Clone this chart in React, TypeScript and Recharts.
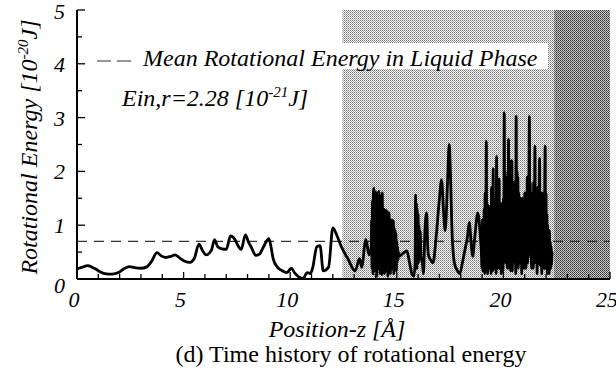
import { LineChart, Line, XAxis, YAxis, ReferenceArea, ReferenceLine } from "recharts";

// [position-z (Å), rotational energy (1e-20 J)]
const liquidTrace: [number, number][] = [
  [0, 0.19], [0.25, 0.22], [0.5, 0.25], [0.7, 0.22], [0.9, 0.18], [1.1, 0.13], [1.3, 0.1],
  [1.65, 0.09], [1.95, 0.12], [2.2, 0.19], [2.45, 0.23], [2.7, 0.21], [3.0, 0.2], [3.25, 0.22],
  [3.5, 0.33], [3.75, 0.49], [3.95, 0.43], [4.15, 0.4], [4.4, 0.42], [4.6, 0.45], [4.85, 0.38],
  [5.05, 0.33], [5.3, 0.31], [5.5, 0.38], [5.72, 0.65], [5.9, 0.52], [6.06, 0.45], [6.3, 0.53],
  [6.45, 0.73], [6.6, 0.6], [6.8, 0.56], [7.0, 0.55], [7.2, 0.8], [7.4, 0.74], [7.55, 0.62],
  [7.7, 0.55], [7.9, 0.82], [8.05, 0.68], [8.2, 0.57], [8.38, 0.44], [8.55, 0.46], [8.75, 0.6],
  [9.0, 0.75], [9.1, 0.6], [9.2, 0.38], [9.4, 0.22], [9.6, 0.16], [9.85, 0.12], [10.05, 0.2],
  [10.2, 0.12], [10.4, 0.04], [10.6, 0.01], [10.8, 0.12], [10.95, 0.1], [11.05, 0.2],
  [11.25, 0.6], [11.4, 0.62], [11.55, 0.15], [11.8, 0.22], [12.0, 0.95], [12.2, 0.8],
  [12.4, 0.6], [12.7, 0.38], [13.05, 0.15], [13.25, 0.38], [13.35, 0.22], [13.55, 0.73],
  [13.7, 0.45], [13.78, 0.55],
];

// first dense burst, sampled every 0.02 Å from 13.80
const burstAStart = 13.8;
const burstA = [
  0.6, 1.1, 0.2, 1.45, 0.1, 1.6, 1.69, 0.3, 1.55, 0.15,
  1.62, 0.5, 1.4, 0.05, 1.6, 0.8, 1.58, 0.2, 1.63, 0.4,
  1.5, 0.1, 1.35, 0.6, 1.55, 0.08, 1.6, 0.3, 1.2, 0.7,
  1.3, 0.1, 1.25, 0.45, 1.28, 0.15, 1.1, 0.6, 1.25, 0.05,
  1.2, 0.35, 1.23, 0.5, 1.1, 0.1, 1.05, 0.4, 1.1, 0.2,
  1.0, 0.6, 1.08, 0.1, 0.95, 0.3, 0.9, 0.5, 0.85, 0.15,
  0.7, 0.3, 0.6, 0.35, 0.5, 0.42,
];

const middleTrace: [number, number][] = [
  [15.3, 0.48], [15.47, 0.52], [15.6, 0.3], [15.72, 0.08], [15.8, 0.05], [15.86, 0.3],
  [15.88, 1.56], [15.9, 0.4], [15.92, 1.4], [15.94, 0.2], [15.96, 1.3], [15.98, 0.6],
  [16.0, 1.2], [16.02, 0.3], [16.04, 1.0], [16.06, 0.5], [16.08, 0.9], [16.1, 0.85],
  [16.14, 0.4], [16.2, 0.3], [16.25, 0.1], [16.32, 0.9], [16.4, 1.23], [16.45, 0.6],
  [16.5, 0.42], [16.6, 0.35], [16.7, 0.3], [16.85, 0.8], [17.0, 1.5], [17.1, 1.84],
  [17.2, 1.2], [17.27, 0.9], [17.38, 1.8], [17.46, 2.5], [17.52, 1.9], [17.58, 1.0],
  [17.7, 0.3], [17.85, 0.15], [17.95, 0.1], [18.1, 0.35], [18.2, 0.55], [18.32, 0.8],
  [18.4, 1.05], [18.5, 0.6], [18.56, 0.42], [18.65, 0.75], [18.8, 1.23], [18.9, 0.9],
  [18.96, 0.55],
];

// second dense burst, sampled every 0.02 Å from 19.00
const burstBStart = 19.0;
const burstB = [
  0.2, 1.1, 0.15, 0.9, 0.4, 1.3, 0.1, 1.6, 0.5, 1.2,
  2.56, 0.3, 1.4, 0.1, 1.2, 0.6, 1.35, 0.2, 1.1, 0.45,
  1.3, 0.1, 1.7, 0.3, 1.2, 0.15, 2.05, 0.5, 1.4, 0.2,
  1.3, 0.6, 1.5, 0.1, 2.28, 0.4, 1.6, 0.2, 1.5, 0.7,
  1.86, 0.2, 1.3, 0.5, 1.2, 0.1, 1.4, 0.6, 1.3, 0.15,
  1.5, 0.4, 3.09, 0.8, 2.0, 0.3, 1.9, 0.6, 1.7, 0.2,
  1.5, 0.7, 2.6, 0.2, 1.8, 0.5, 1.7, 0.15, 2.2, 0.6,
  2.2, 0.15, 1.6, 0.5, 1.3, 0.8, 1.8, 0.3, 1.5, 0.1,
  3.02, 0.4, 2.0, 0.6, 1.9, 0.2, 1.6, 0.7, 1.4, 0.3,
  1.5, 0.6, 1.3, 0.1, 1.5, 0.4, 1.2, 0.7, 1.4, 0.2,
  1.6, 0.5, 1.3, 0.2, 1.5, 0.8, 1.9, 0.3, 1.7, 0.6,
  2.2, 3.02, 0.9, 1.8, 0.4, 1.6, 0.2, 1.5, 0.7, 1.4,
  0.2, 1.8, 0.5, 1.6, 2.47, 0.3, 1.7, 0.6, 1.5, 0.1,
  1.7, 0.6, 1.4, 0.3, 1.9, 2.24, 0.25, 1.6, 0.5, 1.4,
  0.1, 1.6, 0.4, 1.5, 0.7, 1.3, 0.2, 1.8, 2.47, 0.4,
  1.6, 0.2, 1.2, 0.1, 1.0, 0.4, 0.85, 0.1, 0.9, 0.3,
  0.7, 0.2, 0.6, 0.25, 0.5, 0.45,
];
const sampleStep = 0.02;

const xTicks = [0, 1, 2, 3, 4, 5, 6, 7, 8, 9, 10, 11, 12, 13, 14, 15, 16, 17, 18, 19, 20, 21, 22, 23, 24, 25];
const xLabels = [0, 5, 10, 15, 20, 25];
const yTicks = [0, 0.5, 1, 1.5, 2, 2.5, 3, 3.5, 4, 4.5, 5];
const yLabels = [0, 1, 2, 3, 4, 5];
const meanLiquid = 0.7;
const interfaceBand = [12.45, 22.38];
const vaporBand = [22.38, 25];

const sampled = (start: number, values: number[]): [number, number][] =>
  values.map((e, i) => [+(start + i * sampleStep).toFixed(2), e]);

const data = [
  ...liquidTrace,
  ...sampled(burstAStart, burstA),
  ...middleTrace,
  ...sampled(burstBStart, burstB),
].map(([z, e]) => ({ z, e }));

const serif = '"Liberation Serif", "Times New Roman", serif';
const labelStyle = { fontFamily: serif, fontStyle: "italic", fontSize: 22, fill: "#000" } as const;

const BottomTick = ({ x, y, payload }: any) => {
  const v = payload.value;
  const major = xLabels.includes(v);
  return (
    <g>
      <line x1={x} x2={x} y1={y} y2={y - (major ? 7 : 5)} stroke="#000" strokeWidth={1.3} />
      {major && (
        <text x={x - 3} y={y + 28} textAnchor="middle" {...labelStyle}>
          {v}
        </text>
      )}
    </g>
  );
};

const TopTick = ({ x, y, payload }: any) => {
  const major = xLabels.includes(payload.value);
  return <line x1={x} x2={x} y1={y} y2={y + (major ? 7 : 5)} stroke="#000" strokeWidth={1.3} />;
};

const LeftTick = ({ x, y, payload }: any) => {
  const v = payload.value;
  const major = yLabels.includes(v);
  return (
    <g>
      <line x1={x} x2={x + (major ? 8 : 5)} y1={y} y2={y} stroke="#000" strokeWidth={1.3} />
      {major && (
        <text x={x - 12} y={y + (v === 0 ? 14 : v === 5 ? 9 : 8)} textAnchor="end" {...labelStyle}>
          {v}
        </text>
      )}
    </g>
  );
};

const RightTick = ({ x, y, payload }: any) => {
  const major = yLabels.includes(payload.value);
  return <line x1={x} x2={x - (major ? 8 : 5)} y1={y} y2={y} stroke="#000" strokeWidth={1.3} />;
};

const overlayText = { position: "absolute", fontFamily: serif, fontStyle: "italic", fontSize: 24, color: "#000", whiteSpace: "nowrap", lineHeight: 1 } as const;

export default function App() {
  return (
    <div style={{ position: "absolute", left: 0, top: 0, width: 616, height: 374, background: "#fff" }}>
      <LineChart width={616} height={374} data={data} margin={{ top: 10, right: 6, bottom: 0, left: 0 }}>
        <defs>
          <pattern id="lightDots" width="2" height="2" patternUnits="userSpaceOnUse">
            <rect width="2" height="2" fill="#f4f4f4" />
            <rect width="1" height="1" fill="#7a7a7a" />
            <rect x="1" y="1" width="1" height="1" fill="#a8a8a8" />
          </pattern>
          <pattern id="darkDots" width="2" height="2" patternUnits="userSpaceOnUse">
            <rect width="2" height="2" fill="#c4c4c4" />
            <rect width="1" height="1" fill="#3a3a3a" />
            <rect x="1" y="1" width="1" height="1" fill="#5a5a5a" />
          </pattern>
        </defs>
        <XAxis
          dataKey="z"
          type="number"
          domain={[0, 25]}
          ticks={xTicks}
          interval={0}
          height={95}
          tickSize={0}
          tickMargin={0}
          tickLine={false}
          tick={<BottomTick />}
          axisLine={{ stroke: "#000", strokeWidth: 2 }}
        />
        <XAxis
          xAxisId="top"
          orientation="top"
          dataKey="z"
          type="number"
          domain={[0, 25]}
          ticks={xTicks}
          interval={0}
          height={0}
          tickSize={0}
          tickMargin={0}
          tickLine={false}
          tick={<TopTick />}
          axisLine={{ stroke: "#000", strokeWidth: 2 }}
        />
        <YAxis
          type="number"
          domain={[0, 5]}
          ticks={yTicks}
          interval={0}
          width={77}
          tickSize={0}
          tickMargin={0}
          tickLine={false}
          tick={<LeftTick />}
          axisLine={{ stroke: "#000", strokeWidth: 2 }}
        />
        <YAxis
          yAxisId="right"
          orientation="right"
          type="number"
          domain={[0, 5]}
          ticks={yTicks}
          interval={0}
          width={0}
          tickSize={0}
          tickMargin={0}
          tickLine={false}
          tick={<RightTick />}
          axisLine={{ stroke: "#000", strokeWidth: 2 }}
        />
        <ReferenceArea x1={interfaceBand[0]} x2={interfaceBand[1]} y1={0} y2={5} fill="url(#lightDots)" fillOpacity={1} stroke="none" />
        <ReferenceArea x1={vaporBand[0]} x2={vaporBand[1]} y1={0} y2={5} fill="url(#darkDots)" fillOpacity={1} stroke="none" />
        <ReferenceLine y={meanLiquid} stroke="#333" strokeWidth={1.2} strokeDasharray="10 7" />
        <Line
          dataKey="e"
          type="monotone"
          stroke="#000"
          strokeWidth={2.8}
          dot={false}
          isAnimationActive={false}
        />
      </LineChart>

      {/* legend box over the shading */}
      <div style={{ position: "absolute", left: 138, top: 43, width: 410, height: 26, background: "#fff" }} />
      <svg style={{ position: "absolute", left: 95, top: 58 }} width="40" height="6">
        <line x1="2" x2="38" y1="3" y2="3" stroke="#333" strokeWidth="1.2" strokeDasharray="14 6" />
      </svg>
      <div style={{ ...overlayText, left: 143, top: 46 }}>Mean Rotational Energy in Liquid Phase</div>
      <div style={{ ...overlayText, left: 122, top: 85 }}>
        Ein,r=2.28 [10<sup style={{ fontSize: 15, verticalAlign: 9 }}>-21</sup>J]
      </div>

      <div
        style={{
          ...overlayText,
          left: 28,
          top: 147,
          transform: "translate(-50%, -50%) rotate(-90deg)",
        }}
      >
        Rotational Energy [10<sup style={{ fontSize: 15, verticalAlign: 9 }}>-20</sup>J]
      </div>
      <div style={{ ...overlayText, left: 337, top: 317, transform: "translateX(-50%)" }}>Position-z [Å]</div>
      <div style={{ ...overlayText, fontStyle: "normal", left: 351, top: 342, transform: "translateX(-50%)" }}>
        (d) Time history of rotational energy
      </div>
    </div>
  );
}
